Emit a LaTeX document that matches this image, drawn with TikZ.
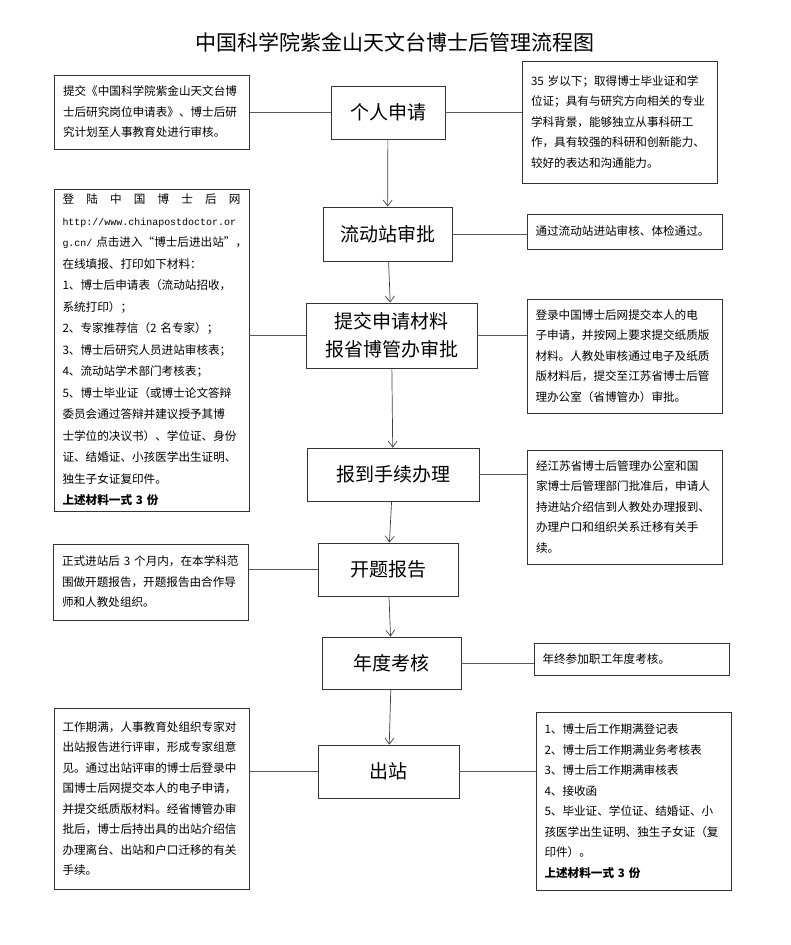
\documentclass[tikz,border=0pt]{standalone}
\usepackage{fontspec}
\setmainfont{Noto Sans CJK SC}
\newfontfamily\urlfont{Liberation Mono}[Scale=0.86]
\usetikzlibrary{positioning, calc, arrows.meta}

\begin{document}
\begin{tikzpicture}[
        x=1pt, y=-1pt,
        stage/.style={
            draw=black!80,
            line width=0.8pt,
            align=center,
            inner sep=0pt,
            font=\fontsize{19}{28}\selectfont
        },
        memo/.style={
            draw=black!80,
            line width=0.8pt,
            text width=178pt,
            inner xsep=8.5pt,
            align=left,
            font=\fontsize{11.6}{20.5}\selectfont
        },
        link/.style={draw=black!65, line width=0.7pt},
        flow/.style={draw=black!75, line width=0.7pt, -{Straight Barb[length=6pt, width=9pt]}}
    ]
        \useasboundingbox (0,0) rectangle (790,945);

        % Title
        \node[font=\fontsize{21}{24}\selectfont] (title) at (395,42) {中国科学院紫金山天文台博士后管理流程图};

        % Main stages
        \node[stage, minimum width=114pt, minimum height=53pt] (apply) at (388,112.5) {个人申请};
        \node[stage, minimum width=129pt, minimum height=54pt] (station) at (387.5,234) {流动站审批};
        \node[stage, minimum width=171pt, minimum height=65pt] (submit) at (391.5,335.5) {提交申请材料\\报省博管办审批};
        \node[stage, minimum width=172pt, minimum height=53pt] (report) at (393,474.5) {报到手续办理};
        \node[stage, minimum width=140pt, minimum height=53pt] (opening) at (388,569.5) {开题报告};
        \node[stage, minimum width=139pt, minimum height=52pt] (annual) at (391.5,663) {年度考核};
        \node[stage, minimum width=141pt, minimum height=53pt] (exit) at (388.5,771.5) {出站};

        % Notes on the left
        \node[memo, minimum height=74pt] (applyL) at (152,112) {提交《中国科学院紫金山天文台博\\
士后研究岗位申请表》、博士后研\\
究计划至人事教育处进行审核。};
        \node[memo, minimum height=322pt, font=\fontsize{11.6}{21.5}\selectfont] (submitL) at (151.5,350) {登\hfill 陆\hfill 中\hfill 国\hfill 博\hfill 士\hfill 后\hfill 网\\
{\urlfont http://www.chinapostdoctor.or}\\
\mbox{{\urlfont g.cn/} 点击进入“博士后进出站”，}\\
在线填报、打印如下材料：\\
1、博士后申请表（流动站招收，\\
系统打印）；\\
2、专家推荐信（2 名专家）；\\
3、博士后研究人员进站审核表；\\
4、流动站学术部门考核表；\\
5、博士毕业证（或博士论文答辩\\
委员会通过答辩并建议授予其博\\
士学位的决议书）、学位证、身份\\
证、结婚证、小孩医学出生证明、\\
独生子女证复印件。\\
\textbf{上述材料一式 3 份}};
        \node[memo, minimum height=76pt] (openingL) at (151,582) {正式进站后 3 个月内，在本学科范\\
围做开题报告，开题报告由合作导\\
师和人教处组织。};
        \node[memo, minimum height=181pt] (exitL) at (151.5,798.5) {工作期满，人事教育处组织专家对\\
出站报告进行评审，形成专家组意\\
见。通过出站评审的博士后登录中\\
国博士后网提交本人的电子申请，\\
并提交纸质版材料。经省博管办审\\
批后，博士后持出具的出站介绍信\\
办理离台、出站和户口迁移的有关\\
手续。};

        % Notes on the right
        \node[memo, minimum height=122pt] (applyR) at (620,122) {35 岁以下；取得博士毕业证和学\\
位证；具有与研究方向相关的专业\\
学科背景，能够独立从事科研工\\
作，具有较强的科研和创新能力、\\
较好的表达和沟通能力。};
        \node[memo, minimum height=35pt] (stationR) at (624.5,231.5) {通过流动站进站审核、体检通过。};
        \node[memo, minimum height=114pt] (submitR) at (624.5,356) {登录中国博士后网提交本人的电\\
子申请，并按网上要求提交纸质版\\
材料。人教处审核通过电子及纸质\\
版材料后，提交至江苏省博士后管\\
理办公室（省博管办）审批。};
        \node[memo, minimum height=114pt] (reportR) at (625,507) {经江苏省博士后管理办公室和国\\
家博士后管理部门批准后，申请人\\
持进站介绍信到人教处办理报到、\\
办理户口和组织关系迁移有关手\\
续。};
        \node[memo, minimum height=32pt] (annualR) at (631.5,659) {年终参加职工年度考核。};
        \node[memo, minimum height=178pt] (exitR) at (633.5,801) {1、博士后工作期满登记表\\
2、博士后工作期满业务考核表\\
3、博士后工作期满审核表\\
4、接收函\\
5、毕业证、学位证、结婚证、小\\
孩医学出生证明、独生子女证（复\\
印件）。\\
\textbf{上述材料一式 3 份}};

        % Flow arrows
        \draw[flow] (apply) -- (station);
        \draw[flow] (station) -- (submit);
        \draw[flow] (submit) -- (report);
        \draw[flow] (report) -- (opening);
        \draw[flow] (opening) -- (annual);
        \draw[flow] (annual) -- (exit);

        % Links to notes
        \draw[link] (applyL.east |- apply.west) -- (apply.west);
        \draw[link] (submitL.east |- submit.west) -- (submit.west);
        \draw[link] (openingL.east |- opening.west) -- (opening.west);
        \draw[link] (exitL.east |- exit.west) -- (exit.west);
        \draw[link] (apply.east) -- (apply.east -| applyR.west);
        \draw[link] (station.east) -- (station.east -| stationR.west);
        \draw[link] (submit.east) -- (submit.east -| submitR.west);
        \draw[link] (report.east) -- (report.east -| reportR.west);
        \draw[link] (annual.east) -- (annual.east -| annualR.west);
        \draw[link] (exit.east) -- (exit.east -| exitR.west);

\end{tikzpicture}
\end{document}
